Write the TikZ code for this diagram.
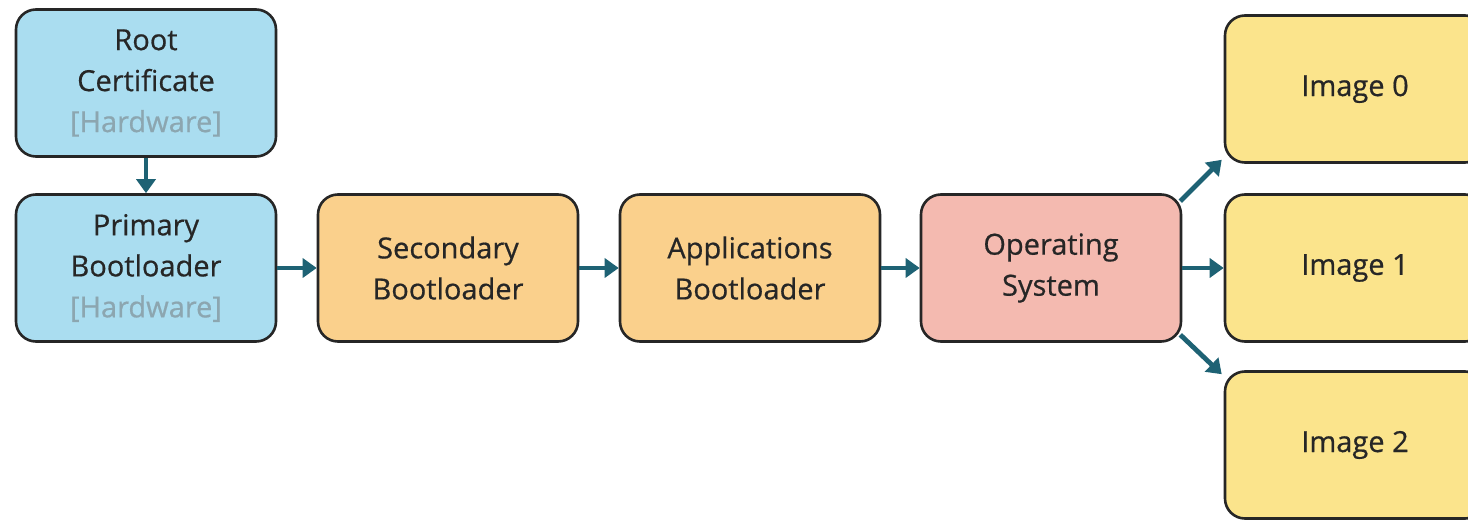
\documentclass[tikz,border=0pt]{standalone}
\usepackage{fontspec}
\setmainfont{Open Sans}[FakeBold=0.6]
\usetikzlibrary{arrows.meta,calc}

\definecolor{mblu}{RGB}{170, 221, 240}
\definecolor{mora}{RGB}{250, 208, 140}
\definecolor{mpin}{RGB}{244, 186, 176}
\definecolor{myel}{RGB}{251, 228, 140}
\definecolor{mtea}{RGB}{30, 98, 116}
\definecolor{mink}{RGB}{38, 38, 38}
\definecolor{mgry}{RGB}{140, 166, 176}

\tikzset{
	box/.style={draw=mink, line width=2.6pt, rounded corners=20pt,
			minimum width=260pt, minimum height=147pt, align=center,
			text=mink, font=\fontsize{29}{41}\selectfont},
	flow/.style={mtea, line width=4.8pt,
			-{Triangle[length=14pt,width=19pt]}}
}

\begin{document}
\begin{tikzpicture}[x=1pt, y=-1pt]
			\useasboundingbox[fill=white] (0,0) rectangle (1468,521);

			% --- Hardware stage ---
			\node[box, fill=mblu] (root) at (146, 83) {Root\\Certificate\\\textcolor{mgry}{[Hardware]}};
			\node[box, fill=mblu] (pbl) at (146, 268) {Primary\\Bootloader\\\textcolor{mgry}{[Hardware]}};

			% --- Boot chain ---
			\node[box, fill=mora] (sbl) at (448, 268) {Secondary\\Bootloader};
			\node[box, fill=mora] (abl) at (750, 268) {Applications\\Bootloader};
			\node[box, fill=mpin] (os) at (1051, 268) {Operating\\System};

			% Images loaded by the OS
			\foreach \i/\y in {0/89, 1/268, 2/445} {
					\node[box, fill=myel] (img\i) at (1355, \y) {Image \i};
				}

			% Arrows
			\draw[flow] (root) -- (pbl);
			\draw[flow] (pbl) -- (sbl);
			\draw[flow] (sbl) -- (abl);
			\draw[flow] (abl) -- (os);
			\draw[flow] (os) -- (img1);
			\draw[flow] ($(os.north east)+(-2,8)$) -- ($(img0.south west)+(-2,-4)$);
			\draw[flow] ($(os.south east)+(-2,-8)$) -- ($(img2.north west)+(-2,4)$);

		\end{tikzpicture}
\end{document}
